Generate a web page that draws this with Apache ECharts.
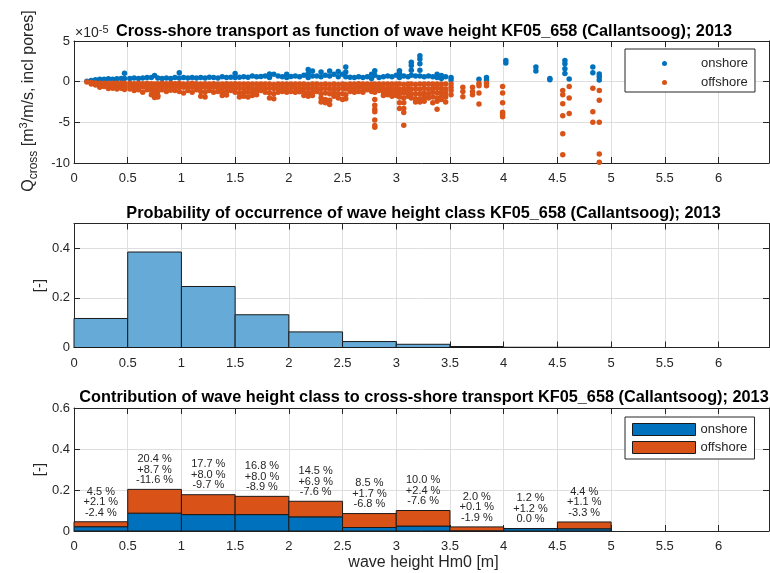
<!DOCTYPE html>
<html>
<head>
<meta charset="utf-8">
<script src="https://cdn.jsdelivr.net/npm/echarts@6.0.0/dist/echarts.min.js"></script>
<style>
  html, body { margin: 0; padding: 0; background: #fff; }
  #chart { width: 770px; height: 573px; }
</style>
</head>
<body>
<div id="chart"></div>
<script>
// scatter: [Hm0, onshore Q (x1e-5), offshore Q (x1e-5)] read per column from the plot
const scatterCols = [
  [0.12, [0.05], [-0.05]],
  [0.16, [0.15], [-0.1, -0.3]],
  [0.20, [0.25], [-0.15, -0.4]],
  [0.24, [0.3], [-0.2, -0.5, -0.7]],
  [0.28, [0.3, 0.1], [-0.2, -0.5, -0.6]],
  [0.32, [0.35], [-0.2, -0.5, -0.85]],
  [0.36, [0.3], [-0.2, -0.5, -0.8]],
  [0.40, [0.35], [-0.2, -0.55, -0.9]],
  [0.44, [0.4], [-0.2, -0.5, -0.8]],
  [0.47, [1.05, 0.4], [-0.2, -0.6, -0.95]],
  [0.52, [0.4], [-0.2, -0.55, -0.9]],
  [0.56, [0.45], [-0.25, -0.6, -1.1]],
  [0.60, [0.4], [-0.2, -0.6, -1.0]],
  [0.64, [0.45], [-0.25, -0.65, -1.3]],
  [0.68, [0.5], [-0.2, -0.6, -1.0]],
  [0.72, [0.5], [-0.25, -0.65, -1.1, -1.6]],
  [0.75, [0.75], [-0.3, -0.7, -1.2, -1.7, -1.95]],
  [0.78, [0.45], [-0.25, -0.7, -1.2, -1.7, -1.9]],
  [0.82, [0.4], [-0.2, -0.6, -1.0]],
  [0.86, [0.45], [-0.25, -0.65, -1.2]],
  [0.90, [0.4], [-0.2, -0.6, -1.05]],
  [0.94, [0.5], [-0.25, -0.6, -1.1]],
  [0.98, [1.1, 0.45], [-0.2, -0.65, -1.2]],
  [1.02, [0.5], [-0.3, -0.7, -1.4]],
  [1.06, [0.45], [-0.25, -0.65, -1.1]],
  [1.10, [0.5], [-0.2, -0.7, -1.3]],
  [1.14, [0.45], [-0.25, -0.6, -1.0]],
  [1.18, [0.5], [-0.3, -0.7, -1.2, -1.8]],
  [1.22, [0.45], [-0.25, -0.7, -1.3, -1.9]],
  [1.26, [0.55], [-0.3, -0.65, -1.1]],
  [1.30, [0.5], [-0.25, -0.7, -1.3]],
  [1.34, [0.45], [-0.3, -0.75, -1.2]],
  [1.38, [0.6], [-0.3, -0.8, -1.3, -1.7]],
  [1.42, [0.5], [-0.25, -0.7, -1.2, -1.65]],
  [1.46, [0.55], [-0.3, -0.7, -1.1]],
  [1.50, [1.0, 0.5], [-0.25, -0.75, -1.3]],
  [1.54, [0.55], [-0.3, -0.8, -1.4, -1.9]],
  [1.58, [0.6], [-0.3, -0.8, -1.3, -1.8]],
  [1.62, [0.55], [-0.3, -0.75, -1.3, -1.9]],
  [1.66, [0.7], [-0.3, -0.8, -1.3, -1.7]],
  [1.70, [0.6], [-0.3, -0.8, -1.2, -1.6]],
  [1.74, [0.65], [-0.3, -0.7, -1.1]],
  [1.78, [0.7], [-0.3, -0.8, -1.3]],
  [1.82, [0.95, 0.5], [-0.3, -0.8, -1.4, -2.0]],
  [1.86, [0.9], [-0.35, -0.85, -1.5, -2.1]],
  [1.90, [0.7], [-0.3, -0.8, -1.3]],
  [1.94, [0.6], [-0.3, -0.75, -1.2]],
  [1.98, [0.9, 0.5], [-0.3, -0.8, -1.3]],
  [2.02, [0.65], [-0.3, -0.7, -1.2]],
  [2.06, [0.7], [-0.3, -0.75, -1.3]],
  [2.10, [0.6], [-0.3, -0.8, -1.25]],
  [2.14, [0.8], [-0.3, -0.8, -1.3, -1.7]],
  [2.18, [1.5, 1.0, 0.5], [-0.35, -0.85, -1.4, -1.8]],
  [2.22, [1.3, 0.7], [-0.3, -0.8, -1.3, -1.7]],
  [2.26, [0.7], [-0.3, -0.8, -1.2]],
  [2.30, [1.2, 0.6], [-0.35, -0.9, -1.5, -2.0, -2.5]],
  [2.34, [0.8], [-0.3, -0.8, -1.4, -2.2, -2.6]],
  [2.38, [1.3, 0.7], [-0.35, -0.9, -1.5, -2.3, -2.8]],
  [2.42, [0.9], [-0.3, -0.8, -1.3, -1.8]],
  [2.46, [1.25, 0.6], [-0.35, -0.9, -1.5, -2.0]],
  [2.50, [0.9], [-0.3, -0.8, -1.5, -2.2]],
  [2.53, [1.8, 1.2, 0.6], [-0.35, -0.9, -1.6, -2.1]],
  [2.57, [0.55], [-0.3, -0.7, -1.2]],
  [2.61, [0.5], [-0.3, -0.8, -1.3]],
  [2.65, [0.6], [-0.25, -0.7, -1.2]],
  [2.69, [0.5], [-0.3, -0.8, -1.3]],
  [2.73, [0.6], [-0.3, -0.7, -1.0]],
  [2.77, [0.9, 0.4], [-0.3, -0.7, -1.2]],
  [2.80, [1.35, 0.8], [-0.3, -0.8, -1.3, -2.2, -2.9, -3.4, -3.7, -4.7, -5.4, -5.6]],
  [2.84, [0.5], [-0.3, -0.7, -1.1]],
  [2.88, [0.6], [-0.3, -0.8, -1.3, -1.7]],
  [2.92, [0.7], [-0.3, -0.8, -1.2, -1.6]],
  [2.96, [0.6], [-0.3, -0.8, -1.3, -1.8]],
  [3.00, [0.8], [-0.3, -0.8, -1.3, -1.7]],
  [3.03, [1.35, 1.0, 0.5], [-0.3, -0.9, -1.4, -1.9, -2.6, -3.3]],
  [3.07, [0.7], [-0.35, -0.9, -1.4, -2.0, -2.6, -3.3, -3.8, -5.35]],
  [3.11, [0.6], [-0.3, -0.8, -1.3, -1.8]],
  [3.14, [2.4, 2.0, 1.4, 0.8], [-0.3, -0.9, -1.5, -2.0]],
  [3.18, [0.7], [-0.35, -0.9, -1.5, -2.1, -2.5]],
  [3.22, [3.2, 2.8, 2.2, 1.4, 0.7], [-0.3, -0.9, -1.5, -2.1, -2.5]],
  [3.26, [0.6], [-0.3, -0.8, -1.4, -1.9, -2.4]],
  [3.30, [0.7], [-0.3, -0.9, -1.5, -2.0]],
  [3.34, [0.6], [-0.3, -0.8, -1.3, -1.9, -2.6]],
  [3.38, [0.9, 0.5], [-0.3, -0.8, -1.4, -2.0, -2.4, -3.4]],
  [3.42, [0.75, 0.4], [-0.3, -0.8, -1.3, -1.8, -2.2]],
  [3.46, [0.6], [-0.3, -0.9, -1.4, -1.9, -2.5]],
  [3.51, [0.5, 0.2], [-0.3, -0.7, -1.1, -1.6]],
  [3.62, [], [-0.7, -1.2, -1.85]],
  [3.71, [], [-0.7, -1.2, -1.6]],
  [3.77, [0.3], [-0.2, -0.5, -1.4, -2.75]],
  [3.84, [0.5, 0.2], [-0.2, -0.5]],
  [3.99, [], [-0.6, -1.4, -2.6, -3.75, -4.0, -4.3]],
  [4.02, [2.6, 2.3], []],
  [4.30, [1.8, 1.3], []],
  [4.43, [0.4, 0.25], []],
  [4.55, [], [-1.1, -1.6, -2.7, -4.2, -6.4, -9.0]],
  [4.57, [2.6, 2.2, 1.6, 1.0], []],
  [4.61, [0.33], [-0.6, -2.0, -3.9]],
  [4.83, [1.8, 1.1], [-0.8, -3.7, -5.0]],
  [4.89, [0.95, 0.6, 0.2], [-1.1, -2.3, -5.0, -8.9, -9.9]]
];

// wave height classes
const binEdges = [0, 0.5, 1, 1.5, 2, 2.5, 3, 3.5, 4, 4.5, 5];
const probability = [0.117, 0.385, 0.246, 0.132, 0.063, 0.024, 0.013, 0.004, 0.001, 0.001];
// contribution per class, percent
const contribTotal = [4.5, 20.4, 17.7, 16.8, 14.5, 8.5, 10.0, 2.0, 1.2, 4.4];
const contribOn = [2.1, 8.7, 8.0, 8.0, 6.9, 1.7, 2.4, 0.1, 1.2, 1.1];
const contribOff = [-2.4, -11.6, -9.7, -8.9, -7.6, -6.8, -7.6, -1.9, 0.0, -3.3];

const BLUE = '#0072BD';
const ORANGE = '#D95319';
const HIST = '#66AAD7';
const INK = '#262626';
const FONT = '"Liberation Sans", Arial, sans-serif';

const onshorePts = scatterCols.flatMap(([x, on]) => on.map(y => [x, y]));
const offshorePts = scatterCols.flatMap(([x, , off]) => off.map(y => [x, y]));

const histData = probability.map((p, i) => [binEdges[i], binEdges[i + 1], 0, p]);
const onData = contribOn.map((v, i) => [binEdges[i], binEdges[i + 1], 0, v / 100]);
const offData = contribOff.map((v, i) => [binEdges[i], binEdges[i + 1], contribOn[i] / 100, (contribOn[i] - v) / 100]);

const X_MAX = 6.47;
const grids = [
  { left: 74, width: 695, top: 41, height: 122 },
  { left: 74, width: 695, top: 223.5, height: 124 },
  { left: 74, width: 695, top: 408, height: 123 }
];
const yRanges = [[-10, 5, 5], [0, 0.5, 0.2], [0, 0.6, 0.2]];

const axisLine = { show: true, onZero: false, lineStyle: { color: INK, width: 1 } };
const tick = { show: true, inside: true, length: 6, lineStyle: { color: INK, width: 1 } };
const labelStyle = { color: INK, fontSize: 13, fontFamily: FONT };

const xAxes = [];
const yAxes = [];
grids.forEach((g, i) => {
  xAxes.push({
    type: 'value', gridIndex: i, position: 'bottom', min: 0, max: X_MAX, interval: 0.5,
    axisLine, axisTick: tick,
    axisLabel: Object.assign({ margin: 9, showMaxLabel: false }, labelStyle),
    splitLine: { show: true, lineStyle: { color: '#dedede', width: 1 } }
  });
  xAxes.push({
    type: 'value', gridIndex: i, position: 'top', min: 0, max: X_MAX, interval: 0.5,
    axisLine, axisTick: tick, axisLabel: { show: false }, splitLine: { show: false }
  });
  const [mn, mx, iv] = yRanges[i];
  yAxes.push({
    type: 'value', gridIndex: i, position: 'left', min: mn, max: mx, interval: iv,
    axisLine, axisTick: tick,
    axisLabel: Object.assign({ margin: 4, showMaxLabel: i !== 1 }, labelStyle),
    splitLine: { show: true, lineStyle: { color: '#dedede', width: 1 } }
  });
  yAxes.push({
    type: 'value', gridIndex: i, position: 'right', min: mn, max: mx, interval: iv,
    axisLine, axisTick: tick, axisLabel: { show: false }, splitLine: { show: false }
  });
});

function binRect(fill) {
  return function (params, api) {
    const p0 = api.coord([api.value(0), api.value(2)]);
    const p1 = api.coord([api.value(1), api.value(3)]);
    return {
      type: 'rect',
      shape: { x: p0[0], y: p1[1], width: p1[0] - p0[0], height: p0[1] - p1[1] },
      style: { fill: fill, stroke: '#1a1a1a', lineWidth: 1 }
    };
  };
}

function pct(v, sign) {
  const s = v.toFixed(1);
  if (sign && v > 0) return '+' + s + ' %';
  return s + ' %';
}

const titleStyle = { align: 'center', verticalAlign: 'middle', fontSize: 16.3, fontWeight: 'bold', fontFamily: FONT, fill: '#000' };
const legendText = { color: INK, fontSize: 13, fontFamily: FONT };

const chart = echarts.init(document.getElementById('chart'), null, { renderer: 'canvas' });
chart.setOption({
  animation: false,
  backgroundColor: '#fff',
  textStyle: { fontFamily: FONT },
  grid: grids.map(g => Object.assign({ containLabel: false, outerBoundsMode: 'none' }, g)),
  xAxis: xAxes,
  yAxis: yAxes,
  legend: [
    {
      left: 625, top: 49, orient: 'vertical',
      data: [{ name: 'onshore', icon: 'circle' }, { name: 'offshore', icon: 'circle' }],
      itemWidth: 5, itemHeight: 5, itemGap: 6,
      padding: [8, 7, 3, 37],
      backgroundColor: '#fff', borderColor: INK, borderWidth: 1, borderRadius: 0,
      selectedMode: false,
      textStyle: Object.assign({ padding: [0, 0, 0, 29] }, legendText)
    },
    {
      left: 625, top: 417, orient: 'vertical',
      data: [
        { name: 'onshore', icon: 'rect', itemStyle: { color: BLUE, borderColor: '#1a1a1a', borderWidth: 1 } },
        { name: 'offshore', icon: 'rect', itemStyle: { color: ORANGE, borderColor: '#1a1a1a', borderWidth: 1 } }
      ],
      itemWidth: 63, itemHeight: 12, itemGap: 5,
      padding: [6, 7, 5, 7],
      backgroundColor: '#fff', borderColor: INK, borderWidth: 1, borderRadius: 0,
      selectedMode: false,
      textStyle: legendText
    }
  ],
  series: [
    {
      name: 'onshore', type: 'scatter', xAxisIndex: 0, yAxisIndex: 0,
      symbol: 'circle', symbolSize: 5.5, itemStyle: { color: BLUE, opacity: 1 }, data: onshorePts
    },
    {
      name: 'offshore', type: 'scatter', xAxisIndex: 0, yAxisIndex: 0,
      symbol: 'circle', symbolSize: 5.5, itemStyle: { color: ORANGE, opacity: 1 }, data: offshorePts
    },
    {
      name: 'probability', type: 'custom', xAxisIndex: 2, yAxisIndex: 2,
      renderItem: binRect(HIST), data: histData
    },
    {
      name: 'onshore', type: 'custom', xAxisIndex: 4, yAxisIndex: 4,
      itemStyle: { color: BLUE, borderColor: '#1a1a1a', borderWidth: 1 },
      renderItem: binRect(BLUE), data: onData
    },
    {
      name: 'offshore', type: 'custom', xAxisIndex: 4, yAxisIndex: 4,
      itemStyle: { color: ORANGE, borderColor: '#1a1a1a', borderWidth: 1 },
      renderItem: binRect(ORANGE), data: offData
    },
    {
      name: 'labels', type: 'custom', xAxisIndex: 4, yAxisIndex: 4,
      data: offData,
      renderItem: function (params, api) {
        const i = params.dataIndex;
        const p = api.coord([(api.value(0) + api.value(1)) / 2, api.value(3)]);
        return {
          type: 'text', x: p[0], y: p[1] - 4,
          style: {
            text: pct(contribTotal[i]) + '\n' + pct(contribOn[i], true) + '\n' + pct(contribOff[i]),
            align: 'center', verticalAlign: 'bottom',
            fontSize: 11, lineHeight: 10.5, fontFamily: FONT, fill: INK
          }
        };
      }
    }
  ],
  graphic: [
    {
      type: 'text', x: 424, y: 31.5,
      style: Object.assign({ text: 'Cross-shore transport as function of wave height KF05_658 (Callantsoog); 2013' }, titleStyle)
    },
    {
      type: 'text', x: 423.5, y: 214,
      style: Object.assign({ text: 'Probability of occurrence of wave height class KF05_658 (Callantsoog); 2013' }, titleStyle)
    },
    {
      type: 'text', x: 424, y: 397.5,
      style: Object.assign({ text: 'Contribution of wave height class to cross-shore transport KF05_658 (Callantsoog); 2013' }, titleStyle)
    },
    {
      type: 'text', x: 75, y: 33,
      style: {
        text: '×10{sup|-5}',
        align: 'left', verticalAlign: 'middle', fontSize: 14, fontFamily: FONT, fill: INK, lineHeight: 18,
        rich: { sup: { fontSize: 11, fontFamily: FONT, fill: INK, verticalAlign: 'top', lineHeight: 10 } }
      }
    },
    {
      type: 'text', x: 29, y: 101, rotation: Math.PI / 2,
      style: {
        text: 'Q{sub|cross} [m{sup|3}/m/s, incl pores]',
        align: 'center', verticalAlign: 'middle', fontSize: 16, fontFamily: FONT, fill: INK, lineHeight: 22,
        rich: {
          sub: { fontSize: 12, fontFamily: FONT, fill: INK, verticalAlign: 'bottom', lineHeight: 12 },
          sup: { fontSize: 11, fontFamily: FONT, fill: INK, verticalAlign: 'top', lineHeight: 11 }
        }
      }
    },
    {
      type: 'text', x: 40, y: 285.5, rotation: Math.PI / 2,
      style: { text: '[-]', align: 'center', verticalAlign: 'middle', fontSize: 15, fontFamily: FONT, fill: INK }
    },
    {
      type: 'text', x: 40, y: 469.5, rotation: Math.PI / 2,
      style: { text: '[-]', align: 'center', verticalAlign: 'middle', fontSize: 15, fontFamily: FONT, fill: INK }
    },
    {
      type: 'text', x: 423.5, y: 563,
      style: { text: 'wave height Hm0 [m]', align: 'center', verticalAlign: 'middle', fontSize: 16, fontFamily: FONT, fill: INK }
    }
  ]
});
</script>
</body>
</html>
